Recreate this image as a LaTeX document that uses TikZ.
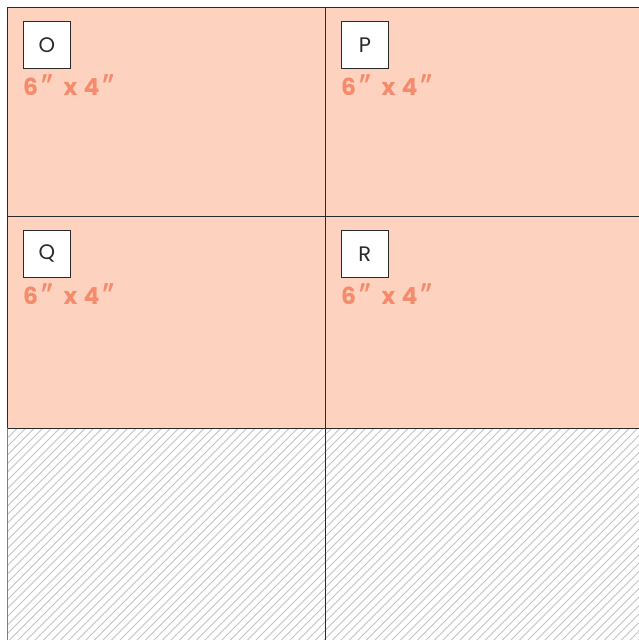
\documentclass[tikz,border=0pt]{standalone}
\usepackage{fontspec}
\setmainfont{Poppins}
\newfontfamily\primefont{Lato}
\newcommand{\dq}{\hspace{1.5pt}{\primefont\fontsize{26}{26}\selectfont ″}}
\newcommand{\sizetxt}{6\dq\hspace{10pt}x\hspace{6pt}4\dq}
\definecolor{peach}{HTML}{FDD3C0}
\definecolor{orangetxt}{HTML}{F58B6C}
\definecolor{hatch}{HTML}{C4C4C4}
\definecolor{edge}{HTML}{2A2A2A}
\begin{document}
\begin{tikzpicture}[x=1pt,y=-1pt,
  grid/.style={draw=edge,line width=0.9pt},
  tag/.style={draw=edge,fill=white,line width=0.7pt,minimum width=47pt,minimum height=47pt,inner sep=0pt,anchor=north west,font=\fontsize{21}{21}\selectfont\color{edge}},
  size/.style={anchor=base west,inner sep=0pt,text=orangetxt,font=\fontsize{23.5}{23.5}\selectfont\bfseries}]
\useasboundingbox (0,0) rectangle (639,640);
\fill[white] (0,0) rectangle (639,640);
% peach area
\fill[peach] (7,7) rectangle (639,428);
% hatch area
\begin{scope}
  \clip (7,428) rectangle (639,640);
  \foreach \i in {-220,-211.5,...,650} {
    \draw[hatch,line width=0.9pt] (\i,640) -- (\i+212,428);
  }
\end{scope}
% grid lines
\draw[grid] (7,7) -- (639,7);
\draw[grid] (7,216) -- (639,216);
\draw[grid] (7,428) -- (639,428);
\draw[grid] (325,7) -- (325,640);
\draw[grid] (7,7) -- (7,428);
\draw[draw=gray,line width=0.9pt] (7,428) -- (7,640);
% tags
\node[tag] (o) at (23,21) {O};
\node[tag] (p) at (341,21) {P};
\node[tag] (q) at (23,230) {Q};
\node[tag] (r) at (341,230) {R};
% sizes
\node[size] (so) at (23,95) {\sizetxt};
\node[size] (sp) at (341,95) {\sizetxt};
\node[size] (sq) at (23,304) {\sizetxt};
\node[size] (sr) at (341,304) {\sizetxt};
\end{tikzpicture}
\end{document}
